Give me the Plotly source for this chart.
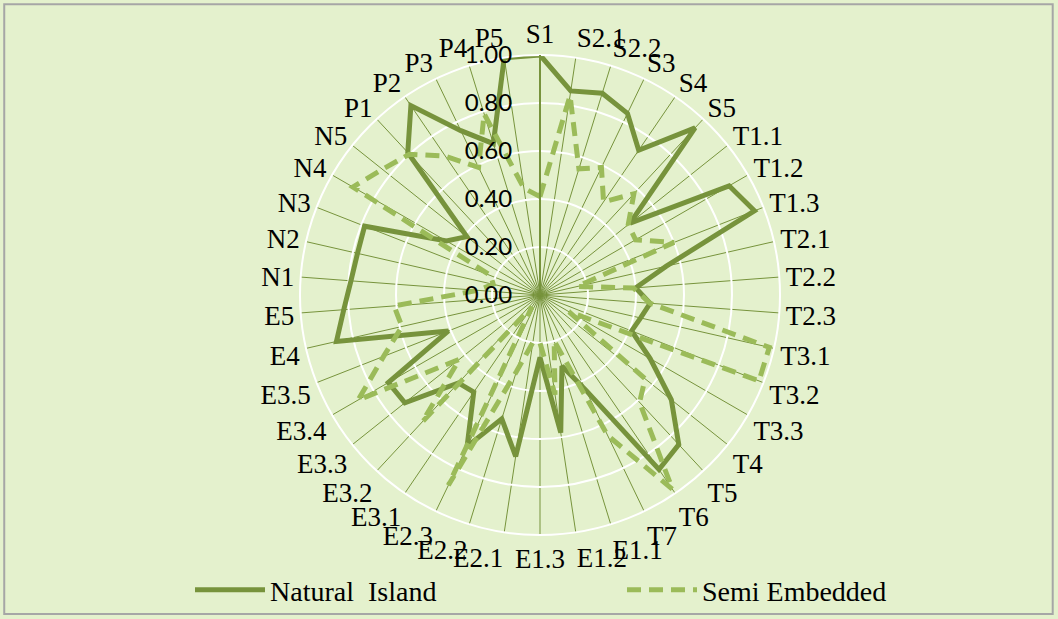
import plotly.graph_objects as go

categories = ["S1", "S2.1", "S2.2", "S3", "S4", "S5",
              "T1.1", "T1.2", "T1.3", "T2.1", "T2.2", "T2.3", "T3.1", "T3.2", "T3.3",
              "T4", "T5", "T6", "T7",
              "E1.1", "E1.2", "E1.3", "E2.1", "E2.2", "E2.3", "E3.1", "E3.2", "E3.3",
              "E3.4", "E3.5", "E4", "E5",
              "N1", "N2", "N3", "N4", "N5",
              "P1", "P2", "P3", "P4", "P5"]

natural_island = [1.00, 0.86, 0.88, 0.84, 0.73, 0.95,
                  0.48, 0.91, 0.96, 0.54, 0.40, 0.46, 0.43, 0.41, 0.53,
                  0.70, 0.85, 0.88, 0.44,
                  0.31, 0.58, 0.26, 0.68, 0.54, 0.70, 0.49, 0.50, 0.72,
                  0.73, 0.41, 0.87, 0.82,
                  0.79, 0.78, 0.785, 0.45, 0.39,
                  0.81, 0.955, 0.76, 0.66, 1.00]

semi_embedded = [0.41, 0.84, 0.55, 0.59, 0.47, 0.575,
                 0.47, 0.46, 0.60, 0.16, 0.39, 0.46, 0.98, 0.98, 0.14,
                 0.56, 0.61, 0.98, 0.65,
                 0.20, 0.42, 0.20, 0.20, 0.335, 0.88, 0.06, 0.72, 0.43,
                 0.875, 0.70, 0.59, 0.61,
                 0.26, 0.20, 0.22, 0.90, 0.84,
                 0.80, 0.70, 0.59, 0.79, 0.45]

radial_ticks = [0, 0.2, 0.4, 0.6, 0.8, 1.0]
radial_labels = ["0.00", "0.20", "0.40", "0.60", "0.80", "1.00"]

bg = "#E4F1CD"
dark = "#77933C"
light = "#9BBB59"

fig = go.Figure()

# close the loops
fig.add_trace(go.Scatterpolar(r=natural_island + natural_island[:1], theta=categories + categories[:1],
                              mode="lines", name="Natural  Island",
                              line=dict(color=dark, width=5)))
fig.add_trace(go.Scatterpolar(r=semi_embedded + semi_embedded[:1], theta=categories + categories[:1],
                              mode="lines", name="Semi Embedded",
                              line=dict(color=light, width=5, dash="14px,8px")))

W, H = 1058, 619
cx, cy, R = 540, 295, 240

# push the radial labels off the axis line like the original
pad = "\u00a0" * 3

fig.update_layout(
    width=W, height=H,
    paper_bgcolor=bg,
    margin=dict(l=0, r=0, t=0, b=0, autoexpand=False),
    font=dict(family="Liberation Serif", color="black", size=27),
    polar=dict(
        bgcolor=bg,
        domain=dict(x=[(cx - R) / W, (cx + R) / W], y=[(H - cy - R) / H, (H - cy + R) / H]),
        angularaxis=dict(direction="clockwise", rotation=90, type="category",
                         categoryorder="array", categoryarray=categories,
                         gridcolor=dark, gridwidth=1, showline=True, linecolor="white", linewidth=2,
                         ticks="", tickfont=dict(family="Liberation Serif", size=27)),
        radialaxis=dict(range=[0, 1], tickvals=radial_ticks, ticktext=[t + pad for t in radial_labels],
                        angle=90, side="counterclockwise", tickangle=90,
                        gridcolor="white", gridwidth=2, showline=True, linecolor=dark, linewidth=2,
                        ticks="", tickfont=dict(family="Lato", size=24)),
    ),
    legend=dict(orientation="h", x=190 / W, xanchor="left", y=(H - 590) / H, yanchor="middle",
                bgcolor="rgba(0,0,0,0)", itemwidth=70, entrywidth=347,
                font=dict(family="Liberation Serif", size=28)),
    shapes=[dict(type="rect", xref="paper", yref="paper", x0=0.004, y0=0.008, x1=0.995, y1=0.993,
                 line=dict(color="#A6A6A6", width=2))],
)

fig.write_html("out.html", config={"displayModeBar": False},
               post_script="document.body.style.margin='0';")
